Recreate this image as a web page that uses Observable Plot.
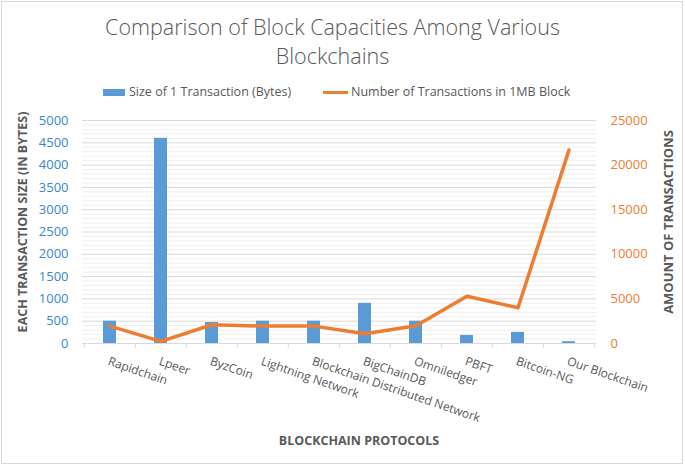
<!DOCTYPE html>
<html>
<head>
<meta charset="utf-8">
<script src="https://cdn.jsdelivr.net/npm/d3@7"></script>
<script src="https://cdn.jsdelivr.net/npm/@observablehq/plot@0.6"></script>
<style>
  html, body { margin: 0; padding: 0; background: #fff; }
  #chart { position: relative; width: 685px; height: 466px; font-family: "Open Sans", sans-serif; color: #595959; }
  #frame { position: absolute; left: 1px; top: 1px; width: 680px; height: 461px; border: 1px solid #d9d9d9; }
  .abs { position: absolute; white-space: nowrap; }
  .title { left: -20px; width: 705px; text-align: center; font-size: 21.5px; font-weight: 300; line-height: 26px; color: #595959; }
  .leg { font-size: 12.5px; top: 83px; color: #595959; }
  .axt { font-weight: 700; color: #595959; transform: translate(-50%, -50%) rotate(-90deg); }
  #xt { font-size: 12.5px; font-weight: 700; color: #595959; transform: translate(-50%, -50%); }
  svg { position: absolute; left: 0; top: 0; }
</style>
</head>
<body>
<div id="chart">
  <div id="frame"></div>
</div>
<script>
const categories = ["Rapidchain", "Lpeer", "ByzCoin", "Lightning Network", "Blockchain Distributed Network", "BigChainDB", "Omniledger", "PBFT", "Bitcoin-NG", "Our Blockchain"];
const txSize = [500, 4600, 470, 500, 500, 900, 500, 180, 250, 40];
const txPerBlock = [1950, 230, 2100, 1950, 1950, 1100, 2000, 5300, 4000, 21700];
const leftTicks = [0, 500, 1000, 1500, 2000, 2500, 3000, 3500, 4000, 4500, 5000];
const rightTicks = [0, 5000, 10000, 15000, 20000, 25000];
const seriesNames = ["Size of 1 Transaction (Bytes)", "Number of Transactions in 1MB Block"];

const ratio = 25000 / 5000;
const blue = "#5B9BD5", orange = "#ED7D31";
const data = categories.map((c, i) => ({cat: c, size: txSize[i], tx: txPerBlock[i]}));
const minor = d3.range(0, 5001, 100).filter(v => v % 500 !== 0);

const W = 685, H = 466, mt = 120, mb = 123, ml = 82, mr = 89;
const half = (W - ml - mr) / categories.length / 2;

const plot = Plot.plot({
  width: W, height: H,
  marginTop: mt, marginBottom: mb, marginLeft: ml, marginRight: mr,
  x: {type: "band", domain: categories, padding: 0},
  y: {domain: [0, 5000]},
  style: {fontFamily: "Open Sans", fontSize: "13px", background: "transparent", overflow: "visible"},
  marks: [
    Plot.ruleY(minor, {stroke: "#efefef", strokeWidth: 1}),
    Plot.ruleY(leftTicks.filter(v => v > 0), {stroke: "#d9d9d9", strokeWidth: 1}),
    Plot.barY(data, {x: "cat", y: "size", fill: blue, insetLeft: 19, insetRight: 19}),
    Plot.ruleY([0], {stroke: "#d9d9d9", strokeWidth: 1}),
    Plot.ruleX(categories, {x: d => d, dx: -half, y1: 0, y2: -110, stroke: "#d9d9d9"}),
    Plot.ruleX(categories.slice(-1), {x: d => d, dx: half, y1: 0, y2: -110, stroke: "#d9d9d9"}),
    Plot.line(data, {x: "cat", y: d => d.tx / ratio, stroke: orange, strokeWidth: 3.5, strokeLinejoin: "round", strokeLinecap: "round"}),
    Plot.axisY(leftTicks, {anchor: "left", tickSize: 0, tickPadding: 14, color: "#3A87CC", label: null, fontSize: 13, tickFormat: d => String(d)}),
    Plot.axisY(rightTicks.map(v => v / ratio), {anchor: "right", tickSize: 0, tickPadding: 14, color: orange, label: null, fontSize: 13, tickFormat: d => String(d * ratio)}),
    Plot.axisX(categories, {anchor: "bottom", tickSize: 0, tickPadding: 13, textAnchor: "start", rotate: 19, color: "#595959", label: null, fontSize: 12, lineAnchor: "top"})
  ]
});

const chart = document.getElementById("chart");
chart.appendChild(plot);

function addDiv(cls, text, style) {
  const d = document.createElement("div");
  d.className = cls;
  d.textContent = text;
  Object.assign(d.style, style || {});
  chart.appendChild(d);
  return d;
}
addDiv("abs title", "Comparison of Block Capacities Among Various", {top: "14px"});
addDiv("abs title", "Blockchains", {top: "43px"});

// legend
addDiv("abs", "", {left: "103px", top: "89px", width: "22px", height: "7px", background: blue});
addDiv("abs leg", seriesNames[0], {left: "129px"});
addDiv("abs", "", {left: "323px", top: "91px", width: "25px", height: "3px", background: orange});
addDiv("abs leg", seriesNames[1], {left: "351px"});

// axis titles
addDiv("abs axt", "EACH TRANSACTION SIZE (IN BYTES)", {left: "22px", top: "222px", fontSize: "12.5px"});
addDiv("abs axt", "AMOUNT OF TRANSACTIONS", {left: "668px", top: "222px", fontSize: "13px"});
const xt = addDiv("abs", "BLOCKCHAIN PROTOCOLS", {left: "359px", top: "440px"});
xt.id = "xt";
</script>
</body>
</html>
